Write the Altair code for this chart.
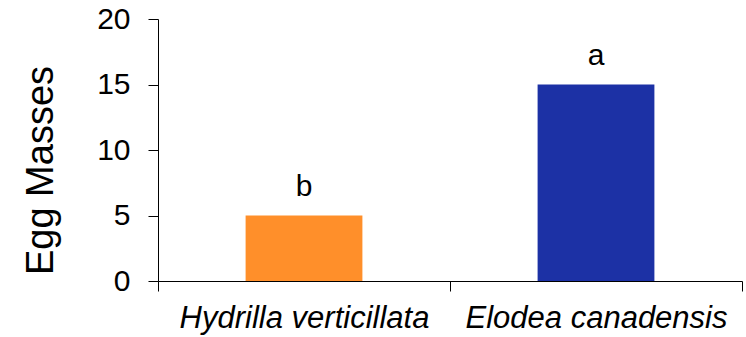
import altair as alt
import pandas as pd

species = ["Hydrilla verticillata", "Elodea canadensis"]
egg_masses = [5, 15]
letters = ["b", "a"]
bar_colors = ["#FF8F2A", "#1C31A5"]

df = pd.DataFrame({"species": species, "egg": egg_masses, "letter": letters})

FONT = "Liberation Sans"

x = alt.X(
    "species:N",
    sort=species,
    scale=alt.Scale(paddingInner=0, paddingOuter=0),
    axis=alt.Axis(
        title=None,
        labelAngle=0,
        labelLimit=0,
        tickBand="extent",
        tickSize=10,
        tickColor="black",
        domainColor="black",
        labelFont=FONT,
        labelFontSize=31,
        labelFontStyle="italic",
        labelColor="black",
        labelPadding=12,
    ),
)
y = alt.Y(
    "egg:Q",
    scale=alt.Scale(domain=[0, 20]),
    axis=alt.Axis(
        values=[0, 5, 10, 15, 20],
        title="Egg Masses",
        titleFont=FONT,
        titleFontSize=38,
        titleFontWeight="normal",
        titleColor="black",
        titleAngle=-90,
        titleAlign="center",
        titleBaseline="alphabetic",
        titleX=-106,
        titleY=151,
        tickSize=10,
        tickColor="black",
        domainColor="black",
        labelFont=FONT,
        labelFontSize=30,
        labelColor="black",
        labelPadding=18,
        grid=False,
    ),
)

bars = alt.Chart(df).mark_bar(width=alt.RelativeBandSize(0.4)).encode(
    x=x,
    y=y,
    color=alt.Color("species:N", scale=alt.Scale(domain=species, range=bar_colors), legend=None),
)

text = alt.Chart(df).mark_text(
    dy=-20, baseline="alphabetic", fontSize=30, font=FONT, color="black"
).encode(
    x=alt.X("species:N", sort=species),
    y=alt.Y("egg:Q"),
    text="letter:N",
)

chart = (
    alt.layer(bars, text)
    .properties(
        width=584,
        height=262,
        autosize="none",
        padding={"left": 158, "top": 19, "right": 4, "bottom": 56},
        background="white",
    )
    .configure_view(stroke=None)
)

chart.save("out.html", embed_options={"renderer": "svg", "actions": False})
